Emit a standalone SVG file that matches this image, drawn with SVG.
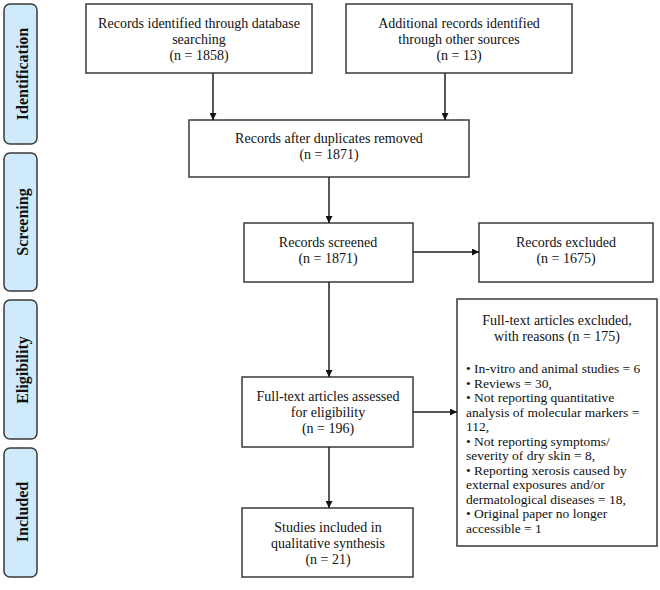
<svg xmlns="http://www.w3.org/2000/svg" width="660" height="590" viewBox="0 0 660 590">
<style>
.box{fill:#fff;stroke:#3a3a3a;stroke-width:1.5}
.side{fill:#cfeafb;stroke:#3a3a3a;stroke-width:1.5}
text{font-family:"Liberation Serif","Times New Roman",serif;font-size:14px;fill:#111}
.c{text-anchor:middle}
.s{font-weight:bold;text-anchor:middle;font-size:16px}
.b{font-size:13.5px}
.ln{stroke:#222;stroke-width:1.5;fill:none}
</style>
<defs>
<marker id="ah" viewBox="0 0 10 10" refX="10" refY="5" markerWidth="7" markerHeight="7" orient="auto" markerUnits="userSpaceOnUse">
<path d="M0,0 L10,5 L0,10 z" fill="#111"/>
</marker>
</defs>
<g id="stage-identification"><rect class="side" x="4" y="4" width="33" height="140" rx="6"/><text class="s" transform="translate(27.5,74) rotate(-90)">Identification</text></g>
<g id="stage-screening"><rect class="side" x="4" y="153" width="33" height="138" rx="6"/><text class="s" transform="translate(27.5,222) rotate(-90)">Screening</text></g>
<g id="stage-eligibility"><rect class="side" x="4" y="300" width="33" height="139" rx="6"/><text class="s" transform="translate(27.5,370) rotate(-90)">Eligibility</text></g>
<g id="stage-included"><rect class="side" x="4" y="448" width="33" height="129" rx="6"/><text class="s" transform="translate(27.5,512) rotate(-90)">Included</text></g>

<g id="db"><rect class="box" x="86" y="4" width="226" height="69"/>
<text class="c" x="199" y="28">Records identified through database</text>
<text class="c" x="199" y="44">searching</text>
<text class="c" x="199" y="60">(n = 1858)</text></g>
<g id="other"><rect class="box" x="346" y="4" width="226" height="69"/>
<text class="c" x="459" y="28">Additional records identified</text>
<text class="c" x="459" y="44">through other sources</text>
<text class="c" x="459" y="60">(n = 13)</text></g>
<g id="dup"><rect class="box" x="189" y="120" width="280" height="57"/>
<text class="c" x="329" y="143">Records after duplicates removed</text>
<text class="c" x="329" y="159">(n = 1871)</text></g>
<g id="screened"><rect class="box" x="244" y="223" width="169" height="59"/>
<text class="c" x="328" y="247">Records screened</text>
<text class="c" x="328" y="263">(n = 1871)</text></g>
<g id="excluded"><rect class="box" x="479" y="223" width="174" height="59"/>
<text class="c" x="566" y="247">Records excluded</text>
<text class="c" x="566" y="263">(n = 1675)</text></g>
<g id="fulltext"><rect class="box" x="242" y="377" width="171" height="70"/>
<text class="c" x="328" y="401">Full-text articles assessed</text>
<text class="c" x="328" y="417">for eligibility</text>
<text class="c" x="328" y="433">(n = 196)</text></g>
<g id="ftexcluded"><rect class="box" x="457" y="299" width="200" height="247"/>
<text class="c" x="557" y="325">Full-text articles excluded,</text>
<text class="c" x="557" y="341">with reasons (n = 175)</text>
<text class="b" x="466" y="373">• In-vitro and animal studies = 6</text>
<text class="b" x="466" y="387.5">• Reviews = 30,</text>
<text class="b" x="466" y="402">• Not reporting quantitative</text>
<text class="b" x="466" y="416.5">analysis of molecular markers =</text>
<text class="b" x="466" y="431">112,</text>
<text class="b" x="466" y="445.5">• Not reporting symptoms/</text>
<text class="b" x="466" y="460">severity of dry skin = 8,</text>
<text class="b" x="466" y="474.5">• Reporting xerosis caused by</text>
<text class="b" x="466" y="489">external exposures and/or</text>
<text class="b" x="466" y="503.5">dermatological diseases = 18,</text>
<text class="b" x="466" y="518">• Original paper no longer</text>
<text class="b" x="466" y="532.5">accessible = 1</text></g>
<g id="included"><rect class="box" x="242" y="508" width="171" height="69"/>
<text class="c" x="328" y="532">Studies included in</text>
<text class="c" x="328" y="548">qualitative synthesis</text>
<text class="c" x="328" y="564">(n = 21)</text></g>

<g id="connectors">
<line class="ln" x1="213" y1="73" x2="213" y2="120" marker-end="url(#ah)"/>
<line class="ln" x1="445" y1="73" x2="445" y2="120" marker-end="url(#ah)"/>
<line class="ln" x1="329" y1="177" x2="329" y2="223" marker-end="url(#ah)"/>
<line class="ln" x1="413" y1="252" x2="479" y2="252" marker-end="url(#ah)"/>
<line class="ln" x1="329" y1="282" x2="329" y2="377" marker-end="url(#ah)"/>
<line class="ln" x1="413" y1="412" x2="457" y2="412" marker-end="url(#ah)"/>
<line class="ln" x1="329" y1="447" x2="329" y2="508" marker-end="url(#ah)"/>
</g>
</svg>
